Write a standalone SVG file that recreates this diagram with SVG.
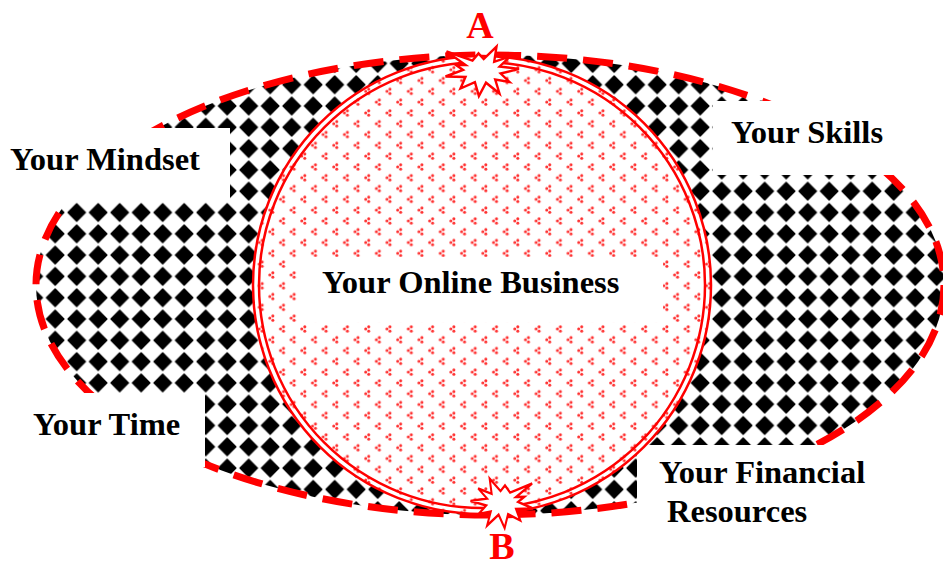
<svg xmlns="http://www.w3.org/2000/svg" width="943" height="567" viewBox="0 0 943 567">
  <style>
    .lbl { font-family: "Liberation Serif", "Times New Roman", serif; font-weight: bold; font-size: 32.5px; fill: #000; }
    .letter { font-family: "Liberation Serif", "Times New Roman", serif; font-weight: bold; font-size: 38px; fill: #ff0000; text-anchor: middle; }
    .box { fill: #ffffff; stroke: none; }
    .ring { fill: none; stroke: #ff0000; stroke-width: 2.5; }
    .burst { fill: #ffffff; stroke: #ff0000; stroke-width: 2.4; stroke-linejoin: miter; }
  </style>
  <defs>
    <pattern id="checker" patternUnits="userSpaceOnUse" x="65.95" y="201.85" width="21.5" height="21.3">
      <rect width="21.5" height="21.3" fill="#ffffff"/>
      <polygon points="10.75,2.0 19.4,10.65 10.75,19.3 2.1,10.65" fill="#000000" stroke="#000000" stroke-width="1.5" stroke-linejoin="round"/>
    </pattern>
    <pattern id="dots" patternUnits="userSpaceOnUse" x="0" y="0" width="21.3" height="21.6">
      <rect width="21.3" height="21.6" fill="#ffffff"/>
      <g fill="#ff3030">
        <circle cx="6.6" cy="2.8" r="1.5"/>
        <circle cx="3.6" cy="5" r="1.5"/>
        <circle cx="6.6" cy="7.2" r="1.5"/>
        <circle cx="17.25" cy="13.6" r="1.5"/>
        <circle cx="14.25" cy="15.8" r="1.5"/>
        <circle cx="17.25" cy="18" r="1.5"/>
      </g>
    </pattern>
    <polygon id="burstShape" points="519,68.9 500.6,73.5 509.5,82 495.2,79.6 499.5,93.5 486.0,82.7 478.9,96 474.9,82.1 460.5,88.5 465.5,77 445.5,76.5 463.1,70 455.6,64.8 465.5,65 446.5,51.5 472.5,60.6 478.5,53.4 483.7,59.0 496.5,46.6 494.2,61.8 510,56.5 499.6,66.5"/>
  </defs>

  <g id="outer-ellipse">
    <ellipse cx="490" cy="285" rx="454" ry="230" fill="url(#checker)"/>
    <ellipse cx="490" cy="285" rx="454" ry="230" fill="none" stroke="#ff0000" stroke-width="7" stroke-dasharray="30 16"/>
  </g>

  <g id="your-mindset">
    <rect class="box" x="0" y="128" width="230" height="74"/>
    <text class="lbl" x="10" y="170">Your Mindset</text>
  </g>

  <g id="your-time">
    <rect class="box" x="0" y="393" width="205" height="74"/>
    <text class="lbl" x="33" y="435">Your Time</text>
  </g>

  <g id="your-skills">
    <rect class="box" x="713" y="101" width="230" height="74"/>
    <text class="lbl" x="731" y="143">Your Skills</text>
  </g>

  <g id="your-financial-resources">
    <rect class="box" x="637" y="445" width="306" height="122"/>
    <text class="lbl" x="659" y="483">Your Financial</text>
    <text class="lbl" x="667" y="522">Resources</text>
  </g>

  <g id="your-online-business">
    <circle cx="482" cy="285" r="229" fill="url(#dots)"/>
    <circle class="ring" cx="482" cy="285" r="229"/>
    <circle class="ring" cx="482" cy="285" r="223"/>
    <rect class="box" x="300" y="257" width="363" height="65"/>
    <text class="lbl" x="322" y="293">Your Online Business</text>
  </g>

  <g id="point-a">
    <use href="#burstShape" class="burst"/>
    <text class="letter" x="480" y="38">A</text>
  </g>

  <g id="point-b">
    <use href="#burstShape" class="burst" transform="translate(502,503) scale(-0.85,1) translate(-482,-71)"/>
    <text class="letter" x="502" y="559">B</text>
  </g>
</svg>
